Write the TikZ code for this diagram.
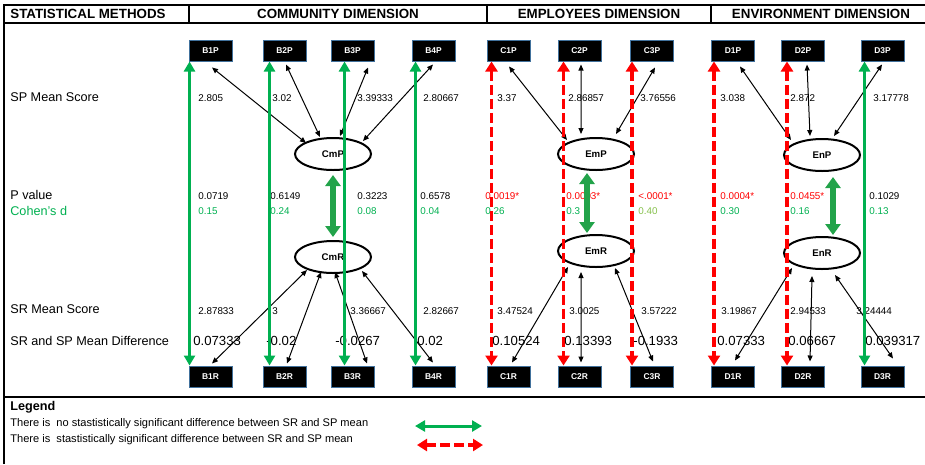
\documentclass[tikz,border=0pt]{standalone}
\usepackage{fontspec}
\setmainfont{Liberation Sans}
\usetikzlibrary{arrows.meta,calc,shapes.geometric}
\definecolor{xlgreen}{HTML}{00B050}
\definecolor{xlred}{HTML}{FF0000}
\definecolor{thickgreen}{HTML}{22A34A}
\definecolor{ltgreen}{HTML}{86C04C}
\definecolor{boxedge}{HTML}{41719C}
\tikzset{
  bx/.style={draw=boxedge, line width=0.02cm, fill=black, text=white, font=\fontsize{4.8}{5}\selectfont\bfseries, minimum width=0.86cm, minimum height=0.42cm, inner sep=0pt},
  lat/.style={draw=black, line width=0.04cm, fill=white, ellipse, minimum width=1.52cm, minimum height=0.64cm, inner sep=0pt, font=\fontsize{5.5}{6}\selectfont\bfseries},
  val/.style={anchor=west, inner sep=0pt, font=\fontsize{5.6}{6}\selectfont},
  dif/.style={anchor=west, inner sep=0pt, font=\fontsize{7.5}{9}\selectfont},
  lab/.style={anchor=west, inner sep=0pt, font=\fontsize{7.2}{9}\selectfont},
  hdr/.style={inner sep=0pt, font=\fontsize{7.6}{10}\selectfont\bfseries},
  thinarr/.style={line width=0.02cm, {Triangle[length=0.12cm,width=0.1cm]}-{Triangle[length=0.12cm,width=0.1cm]}},
  nosig/.style={draw=xlgreen, line width=0.06cm, {Triangle[length=0.2cm,width=0.22cm]}-{Triangle[length=0.2cm,width=0.22cm]}},
  sig/.style={draw=xlred, line width=0.07cm, dash pattern=on 0.2cm off 0.08cm, {Triangle[length=0.2cm,width=0.24cm]}-{Triangle[length=0.2cm,width=0.24cm]}},
  bigarr/.style={draw=thickgreen, line width=0.12cm, {Triangle[length=0.22cm,width=0.3cm]}-{Triangle[length=0.22cm,width=0.3cm]}},
  rule/.style={line width=0.04cm}
}
\begin{document}
\begin{tikzpicture}[x=0.02cm,y=-0.02cm]
\useasboundingbox (0,0) rectangle (925,464);
% frame
\draw[rule] (4,464) -- (4,5) -- (925,5);
\draw[rule] (4,23) -- (925,23);
\draw[rule] (189,5) -- (189,23);
\draw[rule] (487,5) -- (487,23);
\draw[rule] (711,5) -- (711,23);
\draw[line width=0.05cm] (4,397) -- (925,397);
% headers
\node[hdr, anchor=west] (h1) at (10,14) {STATISTICAL METHODS};
\node[hdr] (h2) at (338,14) {COMMUNITY DIMENSION};
\node[hdr] (h3) at (599,14) {EMPLOYEES DIMENSION};
\node[hdr] (h4) at (821,14) {ENVIRONMENT DIMENSION};
% row labels
\node[lab] (l1) at (10,97) {SP Mean Score};
\node[lab] (l2) at (10,195) {P value};
\node[lab, text=xlgreen] (l3) at (10,211) {Cohen's d};
\node[lab] (l4) at (10,309) {SR Mean Score};
\node[lab] (l5) at (10,341) {SR and SP Mean Difference};
% SP values
\node[val] (sp1) at (198,98) {2.805};
\node[val] (sp2) at (272,98) {3.02};
\node[val] (sp3) at (357,98) {3.39333};
\node[val] (sp4) at (423,98) {2.80667};
\node[val] (sp5) at (497,98) {3.37};
\node[val] (sp6) at (568,98) {2.86857};
\node[val] (sp7) at (640,98) {3.76556};
\node[val] (sp8) at (720,98) {3.038};
\node[val] (sp9) at (790,98) {2.872};
\node[val] (sp10) at (873,98) {3.17778};
% P values
\node[val] (pv1) at (198,196) {0.0719};
\node[val] (pv2) at (270,196) {0.6149};
\node[val] (pv3) at (357,196) {0.3223};
\node[val] (pv4) at (420,196) {0.6578};
\node[val, text=xlred] (pv5) at (485,196) {0.0019*};
\node[val, text=xlred] (pv6) at (566,196) {0.0003*};
\node[val, text=xlred] (pv7) at (638,196) {<.0001*};
\node[val, text=xlred] (pv8) at (720,196) {0.0004*};
\node[val, text=xlred] (pv9) at (790,196) {0.0455*};
\node[val] (pv10) at (869,196) {0.1029};
% Cohen's d
\node[val, text=xlgreen] (cd1) at (198,211) {0.15};
\node[val, text=xlgreen] (cd2) at (270,211) {0.24};
\node[val, text=xlgreen] (cd3) at (357,211) {0.08};
\node[val, text=xlgreen] (cd4) at (420,211) {0.04};
\node[val, text=xlgreen] (cd5) at (485,211) {0.26};
\node[val, text=xlgreen] (cd6) at (566,211) {0.3};
\node[val, text=ltgreen] (cd7) at (638,211) {0.40};
\node[val, text=xlgreen] (cd8) at (720,211) {0.30};
\node[val, text=xlgreen] (cd9) at (790,211) {0.16};
\node[val, text=xlgreen] (cd10) at (869,211) {0.13};
% SR values
\node[val] (sr1) at (198,311) {2.87833};
\node[val] (sr2) at (272,311) {3};
\node[val] (sr3) at (350,311) {3.36667};
\node[val] (sr4) at (423,311) {2.82667};
\node[val] (sr5) at (497,311) {3.47524};
\node[val] (sr6) at (569,311) {3.0025};
\node[val] (sr7) at (641,311) {3.57222};
\node[val] (sr8) at (721,311) {3.19867};
\node[val] (sr9) at (790,311) {2.94533};
\node[val] (sr10) at (856,311) {3.24444};
% differences
\node[dif] (df1) at (193,341) {0.07333};
\node[dif] (df2) at (266,341) {-0.02};
\node[dif] (df3) at (335,341) {-0.0267};
\node[dif] (df4) at (417,341) {0.02};
\node[dif] (df5) at (492,341) {0.10524};
\node[dif] (df6) at (564,341) {0.13393};
\node[dif] (df7) at (633,341) {-0.1933};
\node[dif] (df8) at (717,341) {0.07333};
\node[dif] (df9) at (788,341) {0.06667};
\node[dif] (df10) at (865,341) {0.039317};
% legend
\node[lab, font=\fontsize{7.2}{9}\selectfont\bfseries] (lg0) at (10,407) {Legend};
\node[lab, font=\fontsize{6.3}{8}\selectfont] (lg1t) at (10,424) {There is\ \ no stastistically significant difference between SR and SP mean};
\node[lab, font=\fontsize{6.3}{8}\selectfont] (lg2t) at (10,440) {There is\ \ stastistically significant difference between SR and SP mean};
\coordinate (lg1a) at (415,426);
\coordinate (lg1b) at (482,426);
\coordinate (lg2a) at (417,445);
\coordinate (lg2b) at (483,445);
\draw[nosig] (lg1a) -- (lg1b);
\draw[sig] (lg2a) -- (lg2b);
% latent ellipses
\node[lat] (CmP) at (333,154) {CmP};
\node[lat] (CmR) at (333,257) {CmR};
\node[lat] (EmP) at (596,154) {EmP};
\node[lat] (EmR) at (596,251) {EmR};
\node[lat] (EnP) at (822,155) {EnP};
\node[lat] (EnR) at (822,253) {EnR};
% boxes
\foreach \n/\x in {B1/210.5,B2/284.5,B3/352.5,B4/433.5,C1/508.5,C2/579.5,C3/652,D1/733,D2/803,D3/882.5}{
  \node[bx] (\n P) at (\x,50.5) {\n P};
  \node[bx] (\n R) at (\x,376.5) {\n R};
}
% thin arrows, top
\draw[thinarr] ($(B1P.south)+(1.5,6)$) -- ($(CmP.center)+(-27,-11)$);
\draw[thinarr] ($(B2P.south)+(1.5,3)$) -- ($(CmP.center)+(-13,-17)$);
\draw[thinarr] ($(B3P.south)+(15.5,6)$) -- ($(CmP.center)+(7,-18)$);
\draw[thinarr] ($(B4P.south)+(-0.5,3)$) -- ($(CmP.center)+(30,-13)$);
\draw[thinarr] ($(C1P.south)+(0.5,5)$) -- ($(EmP.center)+(-29,-14)$);
\draw[thinarr] ($(C2P.south)+(1.5,3)$) -- ($(EmP.center)+(-15,-20)$);
\draw[thinarr] ($(C3P.south)+(3,6)$) -- ($(EmP.center)+(20,-20)$);
\draw[thinarr] ($(D1P.south)+(7,5)$) -- ($(EnP.center)+(-31,-15)$);
\draw[thinarr] ($(D2P.south)+(4,3)$) -- ($(EnP.center)+(-12,-19)$);
\draw[thinarr] ($(D3P.south)+(-0.5,3)$) -- ($(EnP.center)+(12,-19)$);
% thin arrows, bottom
\draw[thinarr] ($(B1R.north)+(1.5,-2)$) -- ($(CmR.center)+(-26,13)$);
\draw[thinarr] ($(B2R.north)+(2.5,-2)$) -- ($(CmR.center)+(-12,15)$);
\draw[thinarr] ($(B3R.north)+(14.5,-2)$) -- ($(CmR.center)+(2,15)$);
\draw[thinarr] ($(B4R.north)+(-0.5,-3)$) -- ($(CmR.center)+(29,14)$);
\draw[thinarr] ($(C1R.north)+(3.5,-3)$) -- ($(EmR.center)+(-28,16)$);
\draw[thinarr] ($(C2R.north)+(1.5,-3)$) -- ($(EmR.center)+(-15,21)$);
\draw[thinarr] ($(C3R.north)+(1,-4)$) -- ($(EmR.center)+(19,17)$);
\draw[thinarr] ($(D1R.north)+(2,-5)$) -- ($(EnR.center)+(-30,15)$);
\draw[thinarr] ($(D2R.north)+(7,-4)$) -- ($(EnR.center)+(-10,23)$);
\draw[thinarr] ($(D3R.north)+(10.5,-7)$) -- ($(EnR.center)+(13,22)$);
% long vertical arrows
\draw[nosig] ($(B1P.south west)+(1,0)$) -- ($(B1R.north west)+(1,0)$);
\draw[nosig] ($(B2P.south west)+(7,0)$) -- ($(B2R.north west)+(7,0)$);
\draw[nosig] ($(B3P.south west)+(14,0)$) -- ($(B3R.north west)+(14,0)$);
\draw[nosig] ($(B4P.south west)+(4,0)$) -- ($(B4R.north west)+(4,0)$);
\draw[sig] ($(C1P.south west)+(5,0)$) -- ($(C1R.north west)+(5,0)$);
\draw[sig] ($(C2P.south west)+(6,0)$) -- ($(C2R.north west)+(6,0)$);
\draw[sig] ($(C3P.south west)+(2,0)$) -- ($(C3R.north west)+(2,0)$);
\draw[sig] ($(D1P.south west)+(3,0)$) -- ($(D1R.north west)+(3,0)$);
\draw[sig] ($(D2P.south west)+(6,0)$) -- ($(D2R.north west)+(6,0)$);
\draw[nosig] ($(D3P.south west)+(4,0)$) -- ($(D3R.north west)+(4,0)$);
% P-R arrows
\draw[bigarr] ($(CmP.center)+(0,21)$) -- ($(CmR.center)+(0,-20)$);
\draw[bigarr] ($(EmP.center)+(-9,19)$) -- ($(EmR.center)+(-9,-18)$);
\draw[bigarr] ($(EnP.center)+(11,22)$) -- ($(EnR.center)+(11,-18)$);
\end{tikzpicture}
\end{document}
